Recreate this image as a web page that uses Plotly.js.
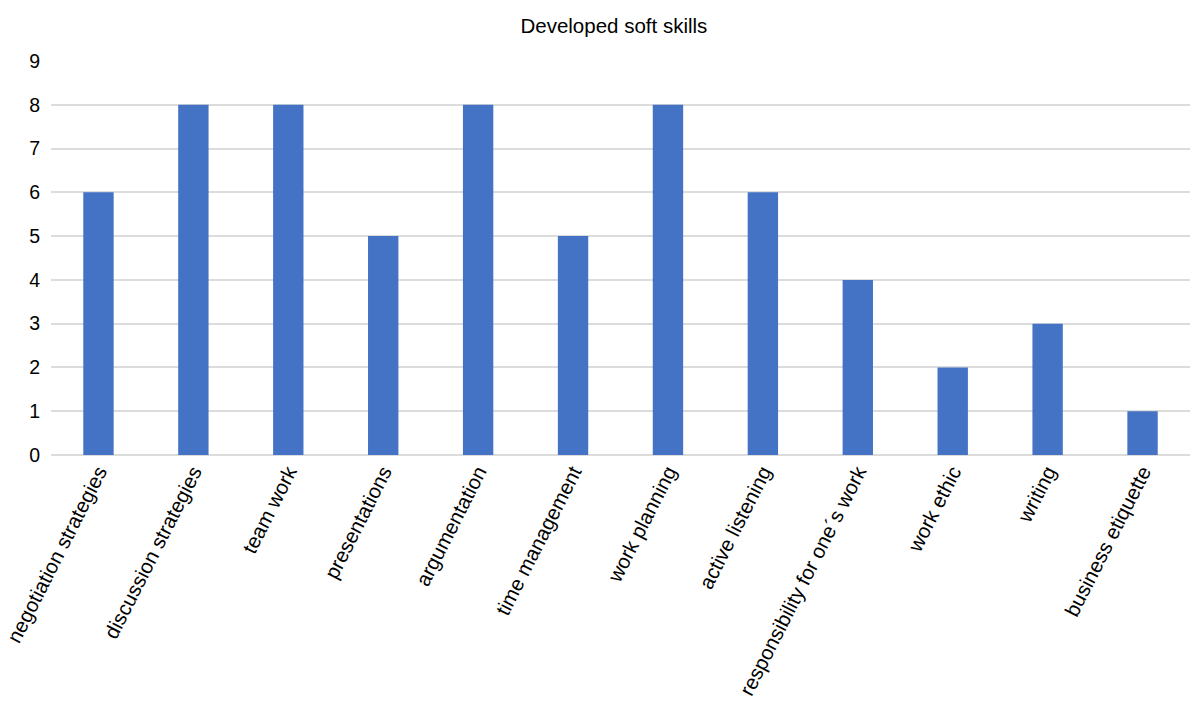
<!DOCTYPE html>
<html>
<head>
<meta charset="utf-8">
<script src="https://cdn.plot.ly/plotly-3.0.1.min.js"></script>
<style>html,body{margin:0;padding:0;background:#fff;}#chart{width:1192px;height:706px;}</style>
</head>
<body>
<div id="chart"></div>
<script>
const categories = ["negotiation strategies","discussion strategies","team work","presentations","argumentation","time management","work planning","active listening","responsibility for one´s work","work ethic","writing","business etiquette"];
const values = [6,8,8,5,8,5,8,6,4,2,3,1];
const yTicks = [0,1,2,3,4,5,6,7,8,9];

Plotly.newPlot('chart', [{
  type: 'bar',
  x: categories,
  y: values,
  marker: {color: '#4472C4'},
  hoverinfo: 'x+y'
}], {
  width: 1192, height: 706,
  margin: {l: 51, r: 2, t: 61, b: 251},
  paper_bgcolor: '#fff', plot_bgcolor: '#fff',
  title: {text: 'Developed soft skills', x: 0.515, xanchor: 'center', y: 0.964, yanchor: 'middle',
          font: {family: 'Liberation Sans, Arial, sans-serif', size: 20.5, color: '#000'}},
  bargap: 0.68,
  font: {family: 'Liberation Sans, Arial, sans-serif', size: 20, color: '#000'},
  xaxis: {tickangle: -63, showgrid: false, showline: false, zeroline: false,
          tickfont: {size: 20.5, color: '#000'}, ticks: '', automargin: false},
  yaxis: {range: [0, 9], tickvals: yTicks, showgrid: true, gridcolor: '#dcdcdc', gridwidth: 1.5,
          zeroline: true, zerolinecolor: '#dcdcdc', zerolinewidth: 1.5, showline: false,
          tickfont: {size: 19.5, color: '#000'}, ticks: '', ticklabelstandoff: 10, automargin: false},
  showlegend: false
}, {displayModeBar: false});
</script>
</body>
</html>
